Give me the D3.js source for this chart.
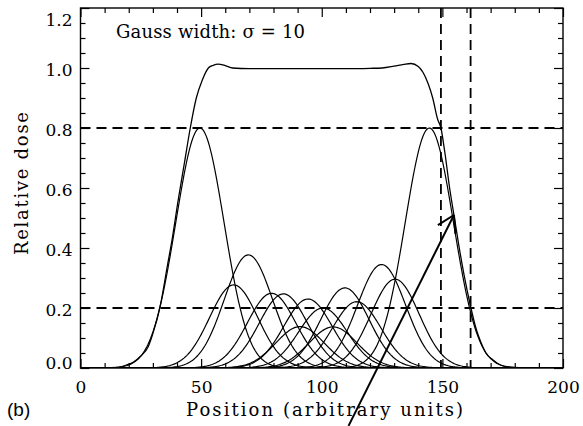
<!DOCTYPE html>
<html>
<head>
<meta charset="utf-8">
<script src="https://cdn.jsdelivr.net/npm/d3@7"></script>
<style>
  html, body { margin: 0; padding: 0; background: #fff; }
  svg { display: block; }
</style>
</head>
<body>
<svg id="chart" width="583" height="426"></svg>
<script>
// ---- data ----
const gaussWidth = 10;                       // sigma, from the label
const beamCenters = [49.5, 63.5, 69.6, 79.2, 84.1, 91.0, 94.3, 100.5, 104.7, 109.6, 114.5, 124.8, 130.4, 144.6];
const beamWeights = [0.80, 0.277, 0.377, 0.249, 0.247, 0.138, 0.230, 0.200, 0.137, 0.267, 0.221, 0.345, 0.296, 0.80];

const totalPos  = [0, 10, 15, 19, 22, 25, 28, 30, 33, 36, 38, 40.5, 43, 45.5, 48, 50.5, 53, 55, 57, 60, 63, 70, 80, 90, 100, 110, 120, 125, 130, 134, 137, 140, 142, 144, 146, 148, 149.4, 151, 153, 155, 157, 159, 161.7, 164, 166, 168, 171, 174, 177, 182, 190, 200];
const totalDose = [0, 0.0005, 0.002, 0.01, 0.02, 0.04, 0.07, 0.115, 0.205, 0.34, 0.43, 0.56, 0.68, 0.80, 0.90, 0.96, 1.0, 1.009, 1.013, 1.008, 1.0, 0.998, 0.998, 0.998, 0.998, 0.998, 0.999, 1.0, 1.006, 1.012, 1.015, 1.005, 0.985, 0.95, 0.90, 0.83, 0.80, 0.72, 0.60, 0.50, 0.40, 0.31, 0.205, 0.13, 0.085, 0.05, 0.027, 0.01, 0.004, 0.001, 0, 0];

const levelLines = [0.8, 0.2];               // 80% / 20% dose
const edgeLines  = [149.4, 161.7];           // positions of 80% and 20% dose
const arrowTail = [111.1, -0.193];
const arrowTip  = [154.8, 0.51];

const xTicks = [0, 50, 100, 150, 200];
const yTicks = [0.0, 0.2, 0.4, 0.6, 0.8, 1.0, 1.2];
const xLabel = "Position (arbitrary units)";
const yLabel = "Relative dose";
const noteText = "Gauss width: \u03c3 = 10";
const panelLabel = "(b)";

// ---- drawing ----
const svg = d3.select("#chart");
const x = d3.scaleLinear().domain([0, 200]).range([80.5, 563]);
const y = d3.scaleLinear().domain([0, 1.2]).range([368, 8]);
const serif = "'DejaVu Serif', serif";

const plot = svg.append("g");
plot.append("defs").append("clipPath").attr("id", "clip")
  .append("rect").attr("x", x(0)).attr("y", y(1.2)).attr("width", x(200) - x(0)).attr("height", y(0) - y(1.2));

// component gaussians
const xs = d3.range(0, 200.01, 0.5);
const line = d3.line().x(d => x(d[0])).y(d => y(d[1]));
const curves = plot.append("g").attr("clip-path", "url(#clip)");
beamCenters.forEach((c, i) => {
  const pts = xs.map(p => [p, beamWeights[i] * Math.exp(-((p - c) ** 2) / (2 * gaussWidth * gaussWidth))]);
  curves.append("path").attr("d", line(pts))
    .attr("fill", "none").attr("stroke", "#000").attr("stroke-width", 1.2);
});

// total dose curve
const totLine = d3.line().x(d => x(d[0])).y(d => y(d[1])).curve(d3.curveMonotoneX);
curves.append("path").attr("d", totLine(totalPos.map((p, i) => [p, totalDose[i]])))
  .attr("fill", "none").attr("stroke", "#000").attr("stroke-width", 1.3);

// dashed guide lines
const dash = "10,6";
levelLines.forEach(v => {
  plot.append("line").attr("x1", x(0)).attr("x2", x(200)).attr("y1", y(v)).attr("y2", y(v))
    .attr("stroke", "#000").attr("stroke-width", 1.8).attr("stroke-dasharray", dash);
});
edgeLines.forEach(v => {
  plot.append("line").attr("x1", x(v)).attr("x2", x(v)).attr("y1", y(1.2)).attr("y2", y(0))
    .attr("stroke", "#000").attr("stroke-width", 1.8).attr("stroke-dasharray", dash);
});

// axes with inward ticks on all four sides
const majorLen = 9, minorLen = 5;
const xMinor = d3.range(0, 200.01, 10).filter(v => v % 50 !== 0);
const yMinor = d3.range(0, 1.2001, 0.05).filter(v => Math.abs(v / 0.2 - Math.round(v / 0.2)) > 1e-6);

function addAxis(axisGen, transform, len, values) {
  const g = svg.append("g").attr("transform", transform)
    .call(axisGen.tickValues(values).tickSizeInner(len).tickSizeOuter(0).tickFormat(() => ""));
  g.select(".domain").remove();
  g.selectAll(".tick line").attr("stroke", "#000").attr("stroke-width", 1.2);
  return g;
}
addAxis(d3.axisTop(x), `translate(0,${y(0)})`, majorLen, xTicks);
addAxis(d3.axisTop(x), `translate(0,${y(0)})`, minorLen, xMinor);
addAxis(d3.axisBottom(x), `translate(0,${y(1.2)})`, majorLen, xTicks);
addAxis(d3.axisBottom(x), `translate(0,${y(1.2)})`, minorLen, xMinor);
addAxis(d3.axisRight(y), `translate(${x(0)},0)`, majorLen, yTicks);
addAxis(d3.axisRight(y), `translate(${x(0)},0)`, minorLen, yMinor);
addAxis(d3.axisLeft(y), `translate(${x(200)},0)`, majorLen, yTicks);
addAxis(d3.axisLeft(y), `translate(${x(200)},0)`, minorLen, yMinor);

// tick labels
const xl = svg.append("g").attr("transform", `translate(0,${y(0)})`)
  .call(d3.axisBottom(x).tickValues(xTicks).tickSize(0).tickPadding(0).tickFormat(d3.format("d")));
xl.select(".domain").remove();
xl.selectAll("text").attr("dy", null).attr("y", 25)
  .attr("font-family", serif).attr("font-size", 17).attr("fill", "#000");

const yl = svg.append("g").attr("transform", `translate(${x(0)},0)`)
  .call(d3.axisLeft(y).tickValues(yTicks).tickSize(0).tickPadding(8).tickFormat(d3.format(".1f")));
yl.select(".domain").remove();
yl.selectAll("text").attr("font-family", serif).attr("font-size", 17).attr("fill", "#000")
  .attr("dy", d => d === 1.2 ? "1.0em" : d === 0 ? "0.0em" : "0.42em");

// frame
svg.append("rect").attr("x", x(0)).attr("y", y(1.2)).attr("width", x(200) - x(0)).attr("height", y(0) - y(1.2))
  .attr("fill", "none").attr("stroke", "#000").attr("stroke-width", 1.4);

// arrow
const ax1 = x(arrowTail[0]), ay1 = y(arrowTail[1]), ax2 = x(arrowTip[0]), ay2 = y(arrowTip[1]);
svg.append("line").attr("x1", ax1).attr("y1", ay1).attr("x2", ax2).attr("y2", ay2)
  .attr("stroke", "#000").attr("stroke-width", 2);
const ang = Math.atan2(ay1 - ay2, ax1 - ax2), headLen = 19, spread = 31 * Math.PI / 180;
[ang + spread, ang - spread].forEach(a => {
  svg.append("line").attr("x1", ax2).attr("y1", ay2)
    .attr("x2", ax2 + headLen * Math.cos(a)).attr("y2", ay2 + headLen * Math.sin(a))
    .attr("stroke", "#000").attr("stroke-width", 2);
});

// texts
svg.append("text").attr("x", 116).attr("y", 38).text(noteText)
  .attr("textLength", 189).attr("lengthAdjust", "spacing")
  .attr("font-family", serif).attr("font-size", 18).attr("fill", "#000");
svg.append("text").attr("x", 186).attr("y", 416).text(xLabel)
  .attr("textLength", 277).attr("lengthAdjust", "spacing")
  .attr("font-family", serif).attr("font-size", 18).attr("fill", "#000");
svg.append("text").attr("transform", "translate(28,255) rotate(-90)").text(yLabel)
  .attr("textLength", 143).attr("lengthAdjust", "spacing")
  .attr("font-family", serif).attr("font-size", 18).attr("fill", "#000");
svg.append("text").attr("x", 7).attr("y", 416).text(panelLabel)
  .attr("font-family", "'Liberation Sans', Arial, sans-serif").attr("font-size", 19).attr("fill", "#000");
</script>
</body>
</html>
